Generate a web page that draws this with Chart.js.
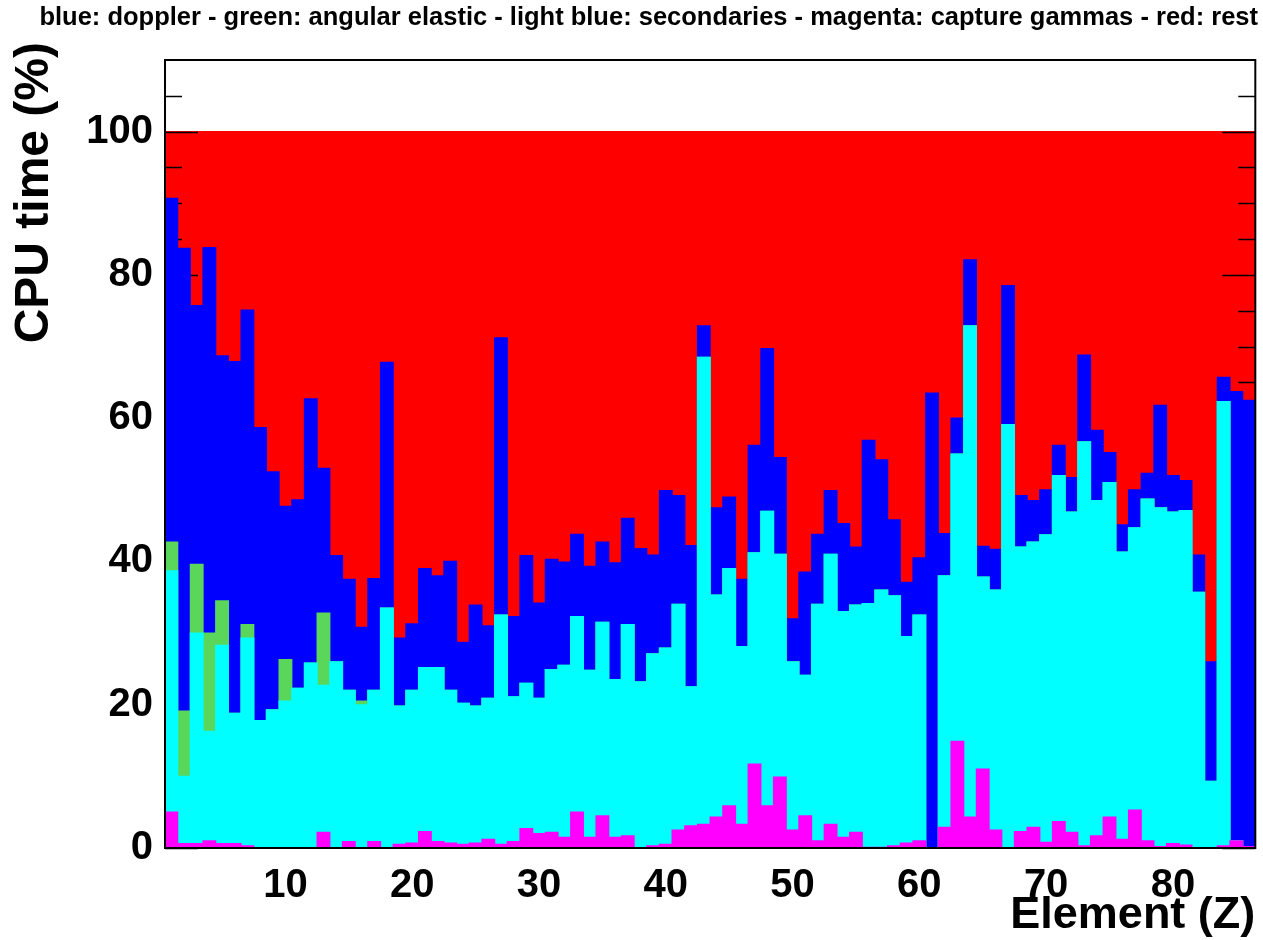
<!DOCTYPE html>
<html>
<head>
<meta charset="utf-8">
<title>CPU time per element</title>
<script src="https://cdn.jsdelivr.net/npm/chart.js@4.4.1/dist/chart.umd.min.js"></script>
<style>
  html, body { margin: 0; padding: 0; background: #fff; }
  canvas { display: block; }
</style>
</head>
<body>
<canvas id="cpu-chart" width="1263" height="940"></canvas>
<script>
const elements = [
  1, 2, 3, 4, 5, 6, 7, 8, 9, 10, 11, 12, 13, 14, 15, 16, 17, 18, 19, 20,
  21, 22, 23, 24, 25, 26, 27, 28, 29, 30, 31, 32, 33, 34, 35, 36, 37, 38, 39, 40,
  41, 42, 43, 44, 45, 46, 47, 48, 49, 50, 51, 52, 53, 54, 55, 56, 57, 58, 59, 60,
  61, 62, 63, 64, 65, 66, 67, 68, 69, 70, 71, 72, 73, 74, 75, 76, 77, 78, 79, 80,
  81, 82, 83, 84, 85, 86
];
const xTicks = [10, 20, 30, 40, 50, 60, 70, 80];
const yTicks = [0, 20, 40, 60, 80, 100];

// upper edge of each component, stacked from the bottom (CPU time %)
const captureTop = [
  5.0, 0.6, 0.6, 1.0, 0.6, 0.6, 0.3, 0.0, 0.0, 0.0, 0.0, 0.0, 2.2, 0.0, 0.9, 0.0, 0.9, 0.0, 0.5, 0.7,
  2.3, 0.9, 0.7, 0.5, 0.7, 1.2, 0.5, 0.9, 2.7, 2.0, 2.2, 1.5, 5.0, 1.5, 4.5, 1.5, 1.7, 0.0, 0.3, 0.5,
  2.5, 3.1, 3.3, 4.3, 5.9, 3.3, 11.7, 5.9, 9.9, 2.5, 4.5, 1.0, 3.3, 1.5, 2.2, 0.1, 0.1, 0.3, 0.7, 1.0,
  0.0, 2.9, 14.9, 4.3, 11.0, 2.5, 0.0, 2.3, 2.9, 0.8, 3.7, 2.2, 0.3, 1.7, 4.3, 1.2, 5.3, 1.0, 0.2, 0.6,
  0.4, 0.0, 0.0, 0.3, 1.0, 0.2
];
const secondariesTop = [
  38.7, 10.0, 30.0, 16.3, 28.3, 18.8, 29.3, 17.8, 19.3, 20.5, 22.3, 25.8, 22.7, 26.0, 22.0, 20.0, 22.0, 33.5, 19.8, 22.0,
  25.2, 25.2, 22.0, 20.2, 19.8, 20.9, 32.5, 21.1, 23.0, 20.9, 24.9, 25.5, 32.3, 24.8, 31.5, 23.5, 31.2, 23.2, 27.1, 27.9,
  34.0, 22.5, 68.5, 35.3, 39.0, 28.1, 41.2, 47.0, 41.0, 26.0, 24.1, 34.0, 41.0, 33.0, 33.9, 34.1, 36.0, 35.2, 29.5, 32.5,
  0.0, 38.0, 55.0, 72.9, 37.8, 36.0, 59.1, 42.0, 42.7, 43.7, 52.0, 46.9, 56.7, 48.5, 51.0, 41.3, 44.7, 48.7, 47.5, 46.9,
  47.1, 35.7, 9.3, 62.3, 1.0, 0.2
];
const elasticTop = [
  42.7, 19.1, 39.6, 30.0, 34.5, 18.8, 31.2, 17.8, 19.3, 26.3, 22.3, 25.8, 32.8, 26.0, 22.0, 20.5, 22.0, 33.5, 19.8, 22.0,
  25.2, 25.2, 22.0, 20.2, 19.8, 20.9, 32.5, 21.1, 23.0, 20.9, 24.9, 25.5, 32.3, 24.8, 31.5, 23.5, 31.2, 23.2, 27.1, 27.9,
  34.0, 22.5, 68.5, 35.3, 39.0, 28.1, 41.2, 47.0, 41.0, 26.0, 24.1, 34.0, 41.0, 33.0, 33.9, 34.1, 36.0, 35.2, 29.5, 32.5,
  0.0, 38.0, 55.0, 72.9, 37.8, 36.0, 59.1, 42.0, 42.7, 43.7, 52.0, 46.9, 56.7, 48.5, 51.0, 41.3, 44.7, 48.7, 47.5, 46.9,
  47.1, 35.7, 9.3, 62.3, 1.0, 0.2
];
const dopplerTop = [
  90.7, 83.7, 75.7, 83.8, 68.7, 67.9, 75.1, 58.7, 52.5, 47.7, 48.6, 62.7, 53.0, 40.8, 37.5, 30.8, 37.6, 67.8, 29.3, 31.3,
  39.0, 38.0, 40.0, 28.7, 33.9, 31.0, 71.2, 32.3, 40.8, 34.2, 40.3, 39.9, 43.8, 39.3, 42.7, 39.8, 46.0, 41.8, 40.9, 49.9,
  49.2, 42.2, 72.9, 47.5, 49.0, 37.5, 56.2, 69.7, 54.5, 32.0, 38.5, 43.8, 49.9, 45.3, 42.0, 56.9, 54.2, 45.8, 37.1, 40.5,
  63.5, 43.9, 60.0, 82.1, 42.1, 41.7, 78.5, 49.2, 48.5, 50.0, 56.2, 51.7, 68.8, 58.3, 55.2, 45.1, 50.0, 52.3, 61.8, 52.0,
  51.3, 40.9, 26.0, 65.7, 63.7, 62.5
];
const restTop = [
  100, 100, 100, 100, 100, 100, 100, 100, 100, 100, 100, 100, 100, 100, 100, 100, 100, 100, 100, 100,
  100, 100, 100, 100, 100, 100, 100, 100, 100, 100, 100, 100, 100, 100, 100, 100, 100, 100, 100, 100,
  100, 100, 100, 100, 100, 100, 100, 100, 100, 100, 100, 100, 100, 100, 100, 100, 100, 100, 100, 100,
  100, 100, 100, 100, 100, 100, 100, 100, 100, 100, 100, 100, 100, 100, 100, 100, 100, 100, 100, 100,
  100, 100, 100, 100, 100, 100
];

const fontFamily = '"Liberation Sans", Arial, Helvetica, sans-serif';
Chart.defaults.font.family = fontFamily;
Chart.defaults.color = '#000';

const boldFont = (size, lineHeight) => ({ size: size, weight: 'bold', lineHeight: lineHeight || 1.2 });

// ticks go in after the red histogram, so the other colours hide them (like ROOT does)
const frameTicks = {
  id: 'frameTicks',
  afterDatasetDraw(chart, args) {
    if (args.index !== 4) return;
    const { ctx, chartArea: a } = chart;
    const y = chart.scales.y;
    ctx.save();
    ctx.strokeStyle = '#000';
    ctx.lineWidth = 1.5;
    ctx.beginPath();
    for (let v = 0; v <= 105; v += 5) {
      const len = v % 20 === 0 ? 33 : 17;
      const py = Math.round(y.getPixelForValue(v)) + 0.5;
      ctx.moveTo(a.left, py);
      ctx.lineTo(a.left + len, py);
      ctx.moveTo(a.right, py);
      ctx.lineTo(a.right - len, py);
    }
    ctx.stroke();
    ctx.restore();
  },
  afterDatasetsDraw(chart) {
    const { ctx, chartArea: a } = chart;
    ctx.save();
    ctx.strokeStyle = '#000';
    ctx.lineWidth = 2;
    ctx.strokeRect(a.left, a.top, a.right - a.left, a.bottom - a.top);
    ctx.restore();
  },
  // y title sticks out above the frame a little, as ROOT puts it
  afterDraw(chart) {
    const { ctx, chartArea: a } = chart;
    ctx.save();
    ctx.translate(35, a.top - 18);
    ctx.rotate(-Math.PI / 2);
    ctx.font = 'bold 48px ' + fontFamily;
    ctx.fillStyle = '#000';
    ctx.textAlign = 'right';
    ctx.textBaseline = 'middle';
    ctx.fillText('CPU time (%)', 0, 0);
    ctx.restore();
  }
};

new Chart(document.getElementById('cpu-chart'), {
  type: 'bar',
  data: {
    labels: elements,
    datasets: [
      { label: 'capture gammas', data: captureTop, backgroundColor: '#ff00ff' },
      { label: 'secondaries', data: secondariesTop, backgroundColor: '#00ffff' },
      { label: 'angular elastic', data: elasticTop, backgroundColor: '#5ad65a' },
      { label: 'doppler', data: dopplerTop, backgroundColor: '#0000ff' },
      { label: 'rest', data: restTop, backgroundColor: '#ff0000' }
    ]
  },
  options: {
    responsive: false,
    animation: false,
    devicePixelRatio: 1,
    datasets: { bar: { barPercentage: 1, categoryPercentage: 1, borderWidth: 0, inflateAmount: 0.6 } },
    layout: { padding: { left: 0, right: 5, top: 0, bottom: 0 } },
    plugins: {
      legend: { display: false },
      tooltip: { enabled: false },
      title: {
        display: true,
        align: 'end',
        text: 'blue: doppler - green: angular elastic - light blue: secondaries - magenta: capture gammas - red: rest',
        font: boldFont(25.5),
        padding: { top: 3, bottom: 26.4 }
      }
    },
    scales: {
      x: {
        stacked: true,
        grid: { display: false, drawTicks: false },
        border: { display: false },
        ticks: {
          autoSkip: false,
          maxRotation: 0,
          padding: 14,
          font: boldFont(40),
          callback: (v, i) => (xTicks.includes(elements[i]) ? String(elements[i]) : '')
        },
        title: { display: true, text: 'Element (Z)', align: 'end', font: boldFont(45, 1.1), padding: 0 },
        afterFit: (scale) => { scale.height = 92; }
      },
      y: {
        stacked: false,
        min: 0,
        max: 110,
        grid: { display: false, drawTicks: false },
        border: { display: false },
        afterBuildTicks: (scale) => { scale.ticks = yTicks.map(v => ({ value: v })); },
        ticks: { padding: 12, font: boldFont(40) },
        afterFit: (scale) => { scale.width = 165; }
      }
    }
  },
  plugins: [frameTicks]
});
</script>
</body>
</html>
